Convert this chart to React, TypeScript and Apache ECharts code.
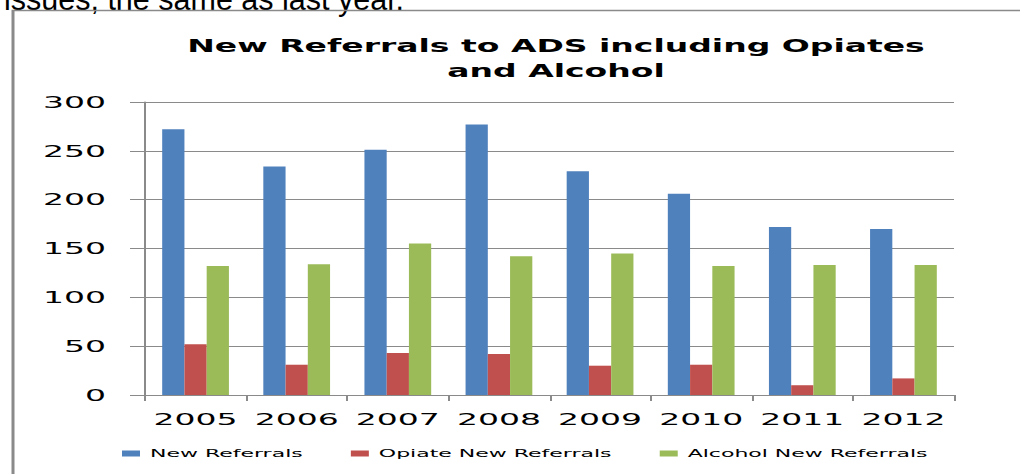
import React, { useEffect, useRef } from "react";
import * as echarts from "echarts";

const years = ["2005", "2006", "2007", "2008", "2009", "2010", "2011", "2012"];
const newReferrals = [272, 234, 251, 277, 229, 206, 172, 170];
const opiateNewReferrals = [52, 31, 43, 42, 30, 31, 10, 17];
const alcoholNewReferrals = [132, 134, 155, 142, 145, 132, 133, 133];
const seriesNames = ["New Referrals", "Opiate New Referrals", "Alcohol New Referrals"];
const seriesColors = ["#4F81BD", "#C0504D", "#9BBB59"];
const titleLines = ["New Referrals to ADS including Opiates", "and Alcohol"];
const introText = "issues, the same as last year.";

const S = 2; // horizontal stretch of the original picture
const W = 1020 / S;
const H = 474;

export default function App() {
  const ref = useRef<HTMLDivElement>(null);
  useEffect(() => {
    if (!ref.current) return;
    const chart = echarts.init(ref.current, null, { renderer: "svg", width: W, height: H });
    const font = "DejaVu Sans";
    const titleScale = 16.5 / 17.5;
    chart.setOption({
      animation: false,
      backgroundColor: "#ffffff",
      grid: { left: 72.5, right: W - 477, top: 102, bottom: H - 395, containLabel: false },
      graphic: [
        {
          type: "text",
          x: 2,
          y: -1.5,
          scaleX: 1 / S,
          style: {
            text: introText,
            font: "30.5px 'Liberation Sans'",
            fill: "#000",
            verticalAlign: "middle",
            align: "left",
          },
        },
        {
          type: "rect",
          shape: { x: 6.5, y: 10.5, width: 700, height: 700 },
          style: { fill: "none", stroke: "#8a8a8a", lineWidth: 1.5 },
        },
        {
          type: "text",
          x: 278,
          y: 46,
          scaleX: titleScale,
          style: {
            text: titleLines[0],
            font: `bold 17.5px '${font}'`,
            fill: "#000",
            align: "center",
            verticalAlign: "middle",
          },
        },
        {
          type: "text",
          x: 278,
          y: 71,
          scaleX: titleScale,
          style: {
            text: titleLines[1],
            font: `bold 17.5px '${font}'`,
            fill: "#000",
            align: "center",
            verticalAlign: "middle",
          },
        },
      ],
      legend: {
        left: 61,
        top: 448,
        padding: 0,
        itemWidth: 9,
        itemHeight: 6,
        itemGap: 24,
        icon: "rect",
        data: seriesNames,
        textStyle: { fontFamily: font, fontSize: 11, color: "#000" },
      },
      xAxis: {
        type: "category",
        data: years,
        boundaryGap: true,
        axisLine: { show: true, lineStyle: { color: "#8a8a8a", width: 1 } },
        axisTick: { show: true, length: 6, interval: 0, alignWithLabel: false, lineStyle: { color: "#8a8a8a" } },
        axisLabel: { margin: 16, fontFamily: font, fontSize: 16.5, color: "#000", interval: 0 },
        splitLine: { show: false },
      },
      yAxis: {
        type: "value",
        min: 0,
        max: 300,
        interval: 50,
        axisLine: { show: true, lineStyle: { color: "#8a8a8a", width: 1 } },
        axisTick: { show: true, length: 7.5, lineStyle: { color: "#8a8a8a" } },
        axisLabel: { margin: 19.5, fontFamily: font, fontSize: 16.5, color: "#000" },
        splitLine: { show: true, lineStyle: { color: "#8a8a8a", width: 1 } },
      },
      series: [
        { name: seriesNames[0], type: "bar", data: newReferrals, itemStyle: { color: seriesColors[0] }, barGap: "0%", barCategoryGap: "34%" },
        { name: seriesNames[1], type: "bar", data: opiateNewReferrals, itemStyle: { color: seriesColors[1] }, barGap: "0%", barCategoryGap: "34%" },
        { name: seriesNames[2], type: "bar", data: alcoholNewReferrals, itemStyle: { color: seriesColors[2] }, barGap: "0%", barCategoryGap: "34%" },
      ],
    });
    return () => chart.dispose();
  }, []);
  return (
    <div style={{ position: "absolute", left: 0, top: 0, width: 1020, height: 474, overflow: "hidden", background: "#fff" }}>
      <div
        ref={ref}
        style={{ width: W, height: H, transform: `scaleX(${S})`, transformOrigin: "0 0" }}
      />
    </div>
  );
}
